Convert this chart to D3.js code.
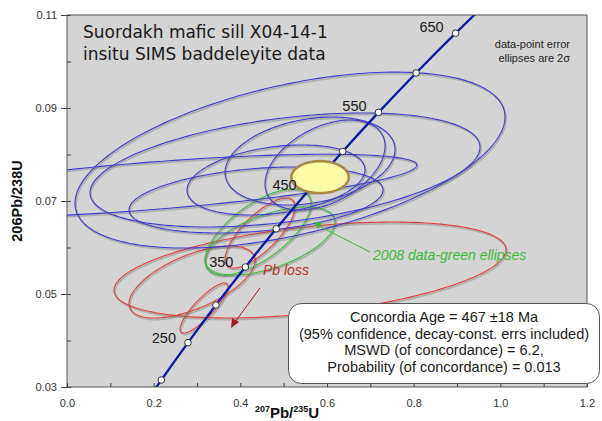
<!DOCTYPE html>
<html><head><meta charset="utf-8">
<script src="https://cdn.jsdelivr.net/npm/d3@7"></script>
<style>
html,body{margin:0;padding:0;background:#fff;}
svg{display:block;font-family:"Liberation Sans",Arial,sans-serif;}
</style></head>
<body>
<svg id="c" width="602" height="421"></svg>
<script>
// ---- data ----
const xTicks = [0,0.1,0.2,0.3,0.4,0.5,0.6,0.7,0.8,0.9,1.0,1.1,1.2];
const xTickLabels = ["0.0","","0.2","","0.4","","0.6","","0.8","","1.0","","1.2"];
const yTicks = [0.03,0.04,0.05,0.06,0.07,0.08,0.09,0.10,0.11];
const yTickLabels = ["0.03","","0.05","","0.07","","0.09","","0.11"];

// concordia (age Ma, 207Pb/235U, 206Pb/238U)
const concAges = [150,200,250,300,350,400,450,500,550,600,650,700];
const concX = [0.1592,0.2177,0.2792,0.3437,0.4116,0.4828,0.5577,0.6362,0.7189,0.8057,0.8969,0.9925];
const concY = [0.02354,0.03151,0.03954,0.04764,0.05580,0.06402,0.07230,0.08065,0.08906,0.09754,0.10609,0.1147];
const markerAges = [200,250,300,350,400,450,500,550,600,650];
const labelAges = [250,350,450,550,650];

// error ellipses: centre x, centre y, half-width x, half-height y, correlation
const blueCx  = [0.5146,0.5031,0.1915,0.4362,0.5608,0.5954,0.4823];
const blueCy  = [0.0788,0.07667,0.07323,0.07022,0.0786,0.07774,0.07452];
const blueSx  = [0.4962,0.450,0.6162,0.2931,0.1962,0.1385,0.2054];
const blueSy  = [0.01892,0.01226,0.00682,0.0071,0.00946,0.00968,0.00753];
const blueRho = [0.49,0.40,0.66,0.30,0.26,0.42,0.29];

const greenCx  = [0.4408,0.4685];
const greenCy  = [0.06333,0.0614];
const greenSx  = [0.1223,0.150];
const greenSy  = [0.00925,0.00731];
const greenRho = [0.66,0.56];

const redCx  = [0.3162,0.5608,0.2885,0.4454];
const redCy  = [0.04699,0.05516,0.05258,0.06312];
const redSx  = [0.0554,0.4523,0.1454,0.0808];
const redSy  = [0.00538,0.01032,0.00774,0.00753];
const redRho = [0.85,0.42,0.60,0.75];

// concordia age ellipse
const ageCx = [0.5840], ageCy = [0.07513], ageSx = [0.0662], ageSy = [0.00344], ageRho = [0];

const titleLines = ["Suordakh mafic sill X04-14-1","insitu SIMS baddeleyite data"];
const noteLines = ["data-point error","ellipses are 2\u03c3"];
const boxLines = ["Concordia Age = 467 \u00b118 Ma","(95% confidence, decay-const. errs included)","MSWD (of concordance) = 6.2,","Probability (of concordance) = 0.013"];

// ---- drawing ----
const svg = d3.select("#c");
const L=67, R=587, T=15, B=387;
const x = d3.scaleLinear().domain([0,1.2]).range([L,R]);
const y = d3.scaleLinear().domain([0.03,0.11]).range([B,T]);

svg.append("defs").append("clipPath").attr("id","clip")
  .append("rect").attr("x",L).attr("y",T).attr("width",R-L).attr("height",B-T);

svg.append("rect").attr("x",L).attr("y",T).attr("width",R-L).attr("height",B-T)
  .attr("fill","#d4d4d4");

const plot = svg.append("g").attr("clip-path","url(#clip)");

function ellipsePts(cx,cy,sx,sy,rho){
  const k = Math.sqrt(1-rho*rho);
  return d3.range(0,361,2).map(a=>{
    const t=a*Math.PI/180;
    return [cx+sx*Math.cos(t), cy+sy*(rho*Math.cos(t)+k*Math.sin(t))];
  });
}
const line = d3.line().x(d=>x(d[0])).y(d=>y(d[1]));

function drawSet(cxs,cys,sxs,sys,rhos,color,w){
  cxs.forEach((c,i)=>{
    const pts = ellipsePts(c,cys[i],sxs[i],sys[i],rhos[i]);
    plot.append("path").attr("d",line(pts)).attr("fill","none")
      .attr("stroke","rgba(90,90,90,0.3)").attr("stroke-width",w+0.8)
      .attr("transform","translate(1,1.5)");
    plot.append("path").attr("d",line(pts)).attr("fill","none")
      .attr("stroke",color).attr("stroke-width",w);
  });
}
drawSet(redCx,redCy,redSx,redSy,redRho,"#e0403c",1.1);
drawSet(greenCx,greenCy,greenSx,greenSy,greenRho,"#3cba3c",1.1);
drawSet(blueCx,blueCy,blueSx,blueSy,blueRho,"#3c3ccc",1.1);

// concordia line
const concPts = concAges.map((a,i)=>[concX[i],concY[i]]);
plot.append("path").attr("d",d3.line().x(d=>x(d[0])).y(d=>y(d[1])).curve(d3.curveCatmullRom)(concPts))
  .attr("fill","none").attr("stroke","#0a1aa8").attr("stroke-width",2.3);

// concordia age ellipse
plot.append("path").attr("d",line(ellipsePts(ageCx[0],ageCy[0],ageSx[0],ageSy[0],ageRho[0])))
  .attr("fill","#fbfba6").attr("stroke","#a88a4a").attr("stroke-width",2.6);

// markers
markerAges.forEach(a=>{
  const i = concAges.indexOf(a);
  if(a===450) return;
  plot.append("circle").attr("cx",x(concX[i])).attr("cy",y(concY[i])).attr("r",3.3)
    .attr("fill","#fff").attr("stroke","#333").attr("stroke-width",1);
});
labelAges.forEach(a=>{
  const i = concAges.indexOf(a);
  svg.append("text").attr("x",x(concX[i])-12).attr("y",y(concY[i])+ (a>=550?-1:0))
    .attr("text-anchor","end").attr("font-size",14.5).attr("fill","#1a1a1a").text(a);
});

// green annotation
svg.append("line").attr("x1",370).attr("y1",252).attr("x2",319).attr("y2",226)
  .attr("stroke","#3cba3c").attr("stroke-width",1);
svg.append("path").attr("d","M314,222 L322,223 L318,229 Z").attr("fill","#3cba3c");
svg.append("text").attr("x",373).attr("y",260).attr("font-size",14).attr("font-style","italic")
  .attr("fill","#3cba3c").text("2008 data-green ellipses");

// Pb loss
svg.append("text").attr("x",263).attr("y",275).attr("font-size",14).attr("font-style","italic")
  .attr("fill","#c0302a").text("Pb loss");
svg.append("line").attr("x1",260).attr("y1",288).attr("x2",235).attr("y2",322)
  .attr("stroke","#a01e1e").attr("stroke-width",1);
svg.append("path").attr("d","M231,328 L232,318 L239,322 Z").attr("fill","#a01e1e");

// frame
svg.append("rect").attr("x",L).attr("y",T).attr("width",R-L).attr("height",B-T)
  .attr("fill","none").attr("stroke","#555").attr("stroke-width",1);

// axes
const xAxis = d3.axisBottom(x).tickValues(xTicks).tickSize(-4).tickPadding(12)
  .tickFormat((d,i)=>xTickLabels[i]);
const gx = svg.append("g").attr("transform",`translate(0,${B})`).call(xAxis);
gx.select(".domain").remove();
gx.selectAll("line").attr("stroke","#444");
gx.selectAll("text").attr("font-size",11).attr("fill","#333").style("font-family","Liberation Sans, Arial, sans-serif");

const yAxis = d3.axisLeft(y).tickValues(yTicks).tickSize(-4).tickPadding(10)
  .tickFormat((d,i)=>yTickLabels[i]);
const gy = svg.append("g").attr("transform",`translate(${L},0)`).call(yAxis);
gy.select(".domain").remove();
gy.selectAll("line").attr("stroke","#444");
gy.selectAll("text").attr("font-size",11).attr("fill","#333").style("font-family","Liberation Sans, Arial, sans-serif");
gy.selectAll(".tick").filter((d,i)=>yTickLabels[i]!=="").append("line")
  .attr("x1",-6).attr("x2",0).attr("stroke","#444");

// axis titles
svg.append("text").attr("transform","translate(22,201) rotate(-90)").attr("text-anchor","middle")
  .attr("font-size",14.5).attr("font-weight","bold").attr("fill","#111").text("206Pb/238U");
const xt = svg.append("text").attr("x",287).attr("y",418).attr("text-anchor","middle")
  .attr("font-weight","bold").attr("fill","#111").attr("font-size",15);
xt.append("tspan").attr("font-size",9).attr("dy",-6).text("207");
xt.append("tspan").attr("dy",6).text("Pb/");
xt.append("tspan").attr("font-size",9).attr("dy",-6).text("235");
xt.append("tspan").attr("dy",6).text("U");

// title
titleLines.forEach((t,i)=>{
  svg.append("text").attr("x",83).attr("y",38+i*22).attr("font-size",17)
    .style("font-family","'DejaVu Sans', Verdana, sans-serif").attr("fill","#1a1a1a").text(t);
});
noteLines.forEach((t,i)=>{
  svg.append("text").attr("x",570).attr("y",48+i*14).attr("text-anchor","end")
    .attr("font-size",11).attr("fill","#222").text(t);
});

// result box
svg.append("rect").attr("x",288.5).attr("y",303.5).attr("width",311).attr("height",80)
  .attr("rx",13).attr("ry",13).attr("fill","#fff").attr("stroke","#555").attr("stroke-width",1);
boxLines.forEach((t,i)=>{
  svg.append("text").attr("x",444).attr("y",322+i*16.5).attr("text-anchor","middle")
    .attr("font-size",14.5).attr("fill","#1a1a1a").text(t);
});
</script>
</body></html>
